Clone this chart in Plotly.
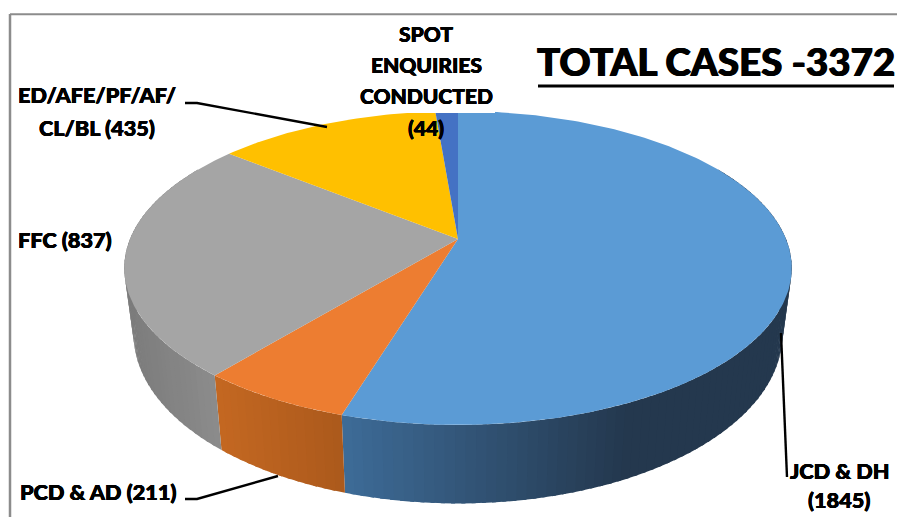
import numpy as np
import plotly.graph_objects as go

# Chart data
categories = ["JCD & DH", "PCD & AD", "FFC", "ED/AFE/PF/AF/CL/BL", "SPOT ENQUIRIES CONDUCTED"]
values = [1845, 211, 837, 435, 44]
top_colors = ["#5B9BD5", "#ED7D31", "#A5A5A5", "#FFC000", "#4472C4"]
side_left = [(62, 108, 152), (196, 104, 34), (124, 124, 124), (190, 144, 0), (50, 85, 145)]
side_right = [(36, 56, 78), (172, 90, 28), (140, 140, 140), (190, 144, 0), (50, 85, 145)]
title_text = "TOTAL CASES -3372"

# Projection of the pie disc on the page
CX, CY = 458.0, 239.0
K, HY, AX = 0.1847, 151.6, 328.0
DEPTH, SHRINK = 64.0, 0.972
HEAVY = "0.35px 0 0 #000, -0.35px 0 0 #000, 0 0.25px 0 #000"


def top_pt(theta):
    u, v = np.sin(theta), np.cos(theta)
    w = 1 + K * v
    return CX + AX * u / w, CY - HY * v / w


def bottom_pt(theta):
    x, y = top_pt(theta)
    return CX + SHRINK * (x - CX), y + DEPTH / (1 + K * np.cos(theta))


fractions = np.array(values) / sum(values)
edges = np.concatenate([[0], np.cumsum(fractions)]) * 2 * np.pi

fig = go.Figure()


def add_poly(xs, ys, color):
    fig.add_trace(go.Scatter(x=xs, y=ys, mode="lines", fill="toself", fillcolor=color,
                             line=dict(color=color, width=0), hoverinfo="skip", showlegend=False))


# side wall, painted as narrow overlapping bands
for i in range(len(values)):
    a0, a1 = max(edges[i], np.radians(60)), min(edges[i + 1], np.radians(300))
    if a1 <= a0:
        continue
    n = max(2, int(np.degrees(a1 - a0) / 1.5))
    steps = np.linspace(a0, a1, n + 1)
    span_x = top_pt(steps)[0]
    xl, xr = span_x.min(), span_x.max()
    for t0, t1 in zip(steps[:-1], steps[1:]):
        t2 = min(t1 + np.radians(0.6), a1)
        p = [top_pt(t0), top_pt(t2), bottom_pt(t2), bottom_pt(t0)]
        xm = top_pt((t0 + t1) / 2)[0]
        f = np.clip((xm - xl) / (xr - xl), 0, 1)
        if i == 0:
            f = np.clip((xm - 342) / (630 - 342), 0, 1)
        rgb = [int(a + (b - a) * f) for a, b in zip(side_left[i], side_right[i])]
        add_poly([q[0] for q in p] + [p[0][0]], [q[1] for q in p] + [p[0][1]], f"rgb({rgb[0]},{rgb[1]},{rgb[2]})")

# top face
for i in range(len(values)):
    t = np.linspace(edges[i], edges[i + 1], max(6, int(np.degrees(edges[i + 1] - edges[i]))))
    xs, ys = top_pt(t)
    add_poly(np.concatenate([[CX], xs, [CX]]), np.concatenate([[CY], ys, [CY]]), top_colors[i])

# leader lines
leaders = [([185, 197, 327], [103, 103, 127]),
           ([185, 197, 278], [499, 499, 476]),
           ([781, 787], [333, 477])]
for lx, ly in leaders:
    fig.add_trace(go.Scatter(x=lx, y=ly, mode="lines", line=dict(color="#000000", width=2.4),
                             hoverinfo="skip", showlegend=False))

label_lines = [("SPOT", 426, 33, 21), ("ENQUIRIES", 426, 64, 21), ("CONDUCTED", 426, 95, 21), ("(44)", 426, 127, 21),
               ("ED/AFE/PF/AF/", 96.5, 95, 21.7), ("CL/BL (435)", 96.5, 128, 21.7), ("FFC (837)", 64.5, 240, 21.7),
               ("PCD & AD (211)", 98, 492, 21.7), ("JCD & DH", 840, 471, 21.7), ("(1845)", 839, 500, 21.7)]
annotations = [dict(x=x, y=y, xref="x", yref="y", text=t, showarrow=False,
                    font=dict(family="Lato", size=s, weight=900, color="#000000", shadow=HEAVY),
                    xanchor="center", yanchor="middle")
               for t, x, y, s in label_lines]
annotations.append(dict(x=715.5, y=61, xref="x", yref="y", text=title_text, showarrow=False,
                        font=dict(family="Lato", size=38.5, weight=900, color="#000000",
                                  shadow="0.6px 0 0 #000, -0.6px 0 0 #000"),
                        xanchor="center", yanchor="middle"))

shapes = [
    dict(type="rect", x0=358, x1=495, y0=18, y1=113, fillcolor="#FFFFFF", line=dict(width=0)),
    dict(type="line", x0=538, x1=894, y0=86, y1=86, line=dict(color="#000000", width=3)),
    dict(type="line", x0=10, x1=897, y0=14.3, y1=14.3, line=dict(color="#8C8C8C", width=2)),
    dict(type="line", x0=10, x1=10, y0=14, y1=517, line=dict(color="#8C8C8C", width=2.5)),
]

fig.update_layout(
    width=897, height=517, margin=dict(l=0, r=0, t=0, b=0),
    paper_bgcolor="#FFFFFF", plot_bgcolor="#FFFFFF", showlegend=False,
    xaxis=dict(range=[0, 897], visible=False, fixedrange=True),
    yaxis=dict(range=[517, 0], visible=False, fixedrange=True),
    annotations=annotations, shapes=shapes,
)

fig.write_html("out.html", config={"displayModeBar": False},
               post_script="document.body.style.margin='0';document.body.style.overflow='hidden';")
